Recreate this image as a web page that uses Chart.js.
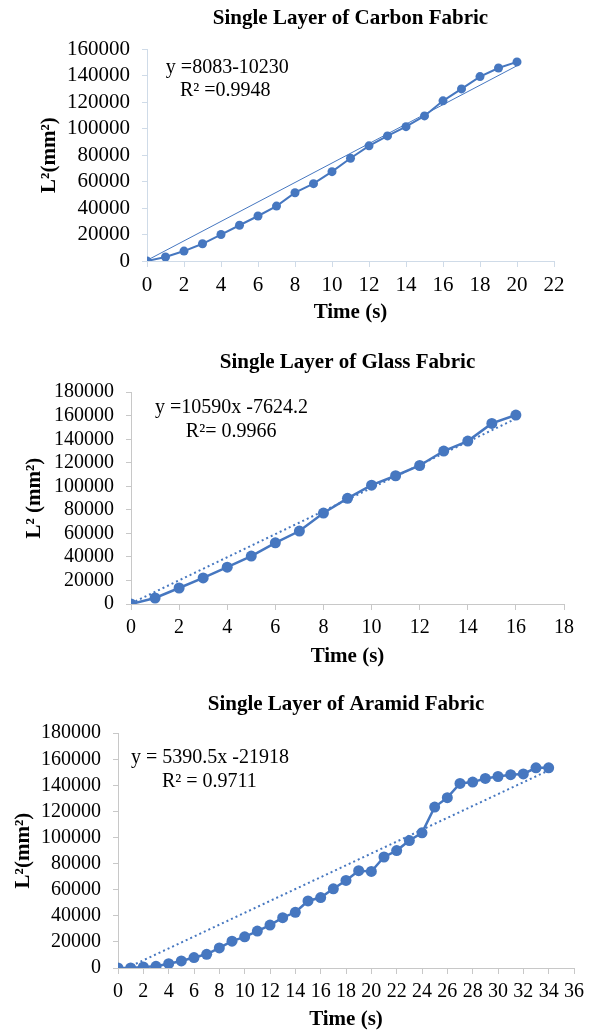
<!DOCTYPE html>
<html>
<head>
<meta charset="utf-8">
<script src="https://cdn.jsdelivr.net/npm/chart.js@4.4.1/dist/chart.umd.min.js"></script>
<style>
  body { margin: 0; background: #fff; }
  .box { position: absolute; left: 0; width: 592px; }
</style>
</head>
<body>
<div class="box" style="top:0;height:330px"><canvas id="carbon"></canvas></div>
<div class="box" style="top:330px;height:342px"><canvas id="glass"></canvas></div>
<div class="box" style="top:672px;height:360px"><canvas id="aramid"></canvas></div>
<script>
// carbon fabric
let carbonTime = [0, 1, 2, 3, 4, 5, 6, 7, 8, 9, 10, 11, 12, 13, 14, 15, 16, 17, 18, 19, 20];
let carbonL2 = [0, 3000, 7500, 13000, 20000, 27000, 34000, 41500, 51600, 58400, 67500,
  77600, 87000, 94500, 101500, 109600, 121000, 130000, 139300, 145800, 150400];
let carbonTrendX = [0, 20];
let carbonTrendY = [500, 147500];

// glass fabric
let glassTime = [0, 1, 2, 3, 4, 5, 6, 7, 8, 9, 10, 11, 12, 13, 14, 15, 16];
let glassL2 = [0, 5100, 13600, 22200, 31300, 40700, 52000, 62000, 77300, 89800, 101000,
  109000, 117700, 130000, 138500, 153500, 160600];
let glassTrendX = [0, 16];
let glassTrendY = [500, 157500];

// aramid fabric
let aramidTime = [0, 1, 2, 3, 4, 5, 6, 7, 8, 9, 10, 11, 12, 13, 14, 15, 16, 17, 18, 19, 20,
  21, 22, 23, 24, 25, 26, 27, 28, 29, 30, 31, 32, 33, 34];
let aramidL2 = [0, 0, 800, 1300, 3300, 5400, 8000, 10500, 15400, 20600, 23900, 28300, 32900,
  38600, 42700, 51400, 54000, 60700, 67100, 74600, 74000, 85100, 90000, 97700, 103600,
  123400, 130600, 141500, 142500, 145300, 146800, 148200, 148800, 153500, 153500];
let aramidTrendX = [0.7, 34];
let aramidTrendY = [0, 151500];

const serif = '"Liberation Serif", "Times New Roman", serif';
const blue = '#4677c0';

function pts(xs, ys) {
  return xs.map(function (x, i) { return { x: x, y: ys[i] }; });
}

// draws the trend equation text at data coordinates
const equationPlugin = {
  id: 'equation',
  afterDatasetsDraw: function (chart, args, opts) {
    const ctx = chart.ctx;
    ctx.save();
    ctx.font = '20px ' + serif;
    ctx.fillStyle = '#000';
    ctx.textAlign = 'left';
    ctx.textBaseline = 'middle';
    opts.lines.forEach(function (l) {
      ctx.fillText(l.text, chart.scales.x.getPixelForValue(l.x), chart.scales.y.getPixelForValue(l.y));
    });
    ctx.restore();
  }
};

function makeChart(id, cfg) {
  let options = {
    type: 'line',
    plugins: [equationPlugin],
    data: {
      datasets: [
        {
          data: pts(cfg.time, cfg.values),
          borderColor: blue,
          backgroundColor: blue,
          borderWidth: cfg.lineWidth,
          pointRadius: cfg.pointRadius,
          pointBorderWidth: 0,
          tension: 0,
        },
        {
          data: pts(cfg.trendX, cfg.trendY),
          borderColor: blue,
          borderWidth: cfg.trendWidth,
          borderDash: cfg.trendDash,
          pointRadius: 0,
          tension: 0,
        },
      ],
    },
    options: {
      animation: false,
      responsive: true,
      maintainAspectRatio: false,
      layout: { padding: { left: 0, right: cfg.padRight, top: 0, bottom: 0 } },
      plugins: {
        legend: { display: false },
        tooltip: { enabled: false },
        title: {
          display: true,
          fullSize: false,
          text: cfg.title,
          color: '#000',
          font: { family: serif, size: 21, weight: 'bold' },
          padding: { top: cfg.titleTop, bottom: cfg.titleBottom },
        },
        equation: { lines: cfg.equation },
      },
      scales: {
        x: {
          type: 'linear',
          min: 0,
          max: cfg.xMax,
          afterFit: function (s) { s.height = cfg.xHeight; },
          ticks: {
            stepSize: 2,
            autoSkip: false,
            maxRotation: 0,
            minRotation: 0,
            color: '#000',
            font: { family: serif, size: cfg.tickSize },
            padding: 6,
          },
          grid: { drawOnChartArea: false, color: cfg.axisColor, tickLength: 6 },
          border: { color: cfg.axisColor },
          title: {
            display: true,
            text: 'Time (s)',
            color: '#000',
            font: { family: serif, size: 21, weight: 'bold' },
            padding: { top: 0, bottom: cfg.xTitleBottom },
          },
        },
        y: {
          min: 0,
          max: cfg.yMax,
          afterFit: function (s) { s.width = cfg.yWidth; },
          ticks: {
            stepSize: 20000,
            autoSkip: false,
            color: '#000',
            font: { family: serif, size: cfg.tickSize },
            padding: 12,
            callback: function (v) { return String(v); },
          },
          grid: { drawOnChartArea: false, color: cfg.axisColor, tickLength: 5 },
          border: { color: cfg.axisColor },
          title: {
            display: true,
            text: cfg.yTitle,
            color: '#000',
            font: { family: serif, size: 21, weight: 'bold' },
            padding: { top: cfg.yTitleLeft, bottom: 0 },
          },
        },
      },
    },
  };
  return new Chart(document.getElementById(id), options);
}

makeChart('carbon', {
  title: 'Single Layer of Carbon Fabric',
  time: carbonTime, values: carbonL2, trendX: carbonTrendX, trendY: carbonTrendY,
  lineWidth: 2, pointRadius: 4.5, trendWidth: 1, trendDash: [], tickSize: 21,
  xMax: 22, yMax: 160000, padRight: 38, yWidth: 147, xHeight: 69, xTitleBottom: 5,
  titleTop: 6, titleBottom: 18, yTitleLeft: 37, yTitle: 'L²(mm²)', axisColor: '#cfdbe8',
  equation: [{ text: 'y =8083-10230', x: 1.02, y: 146300 }, { text: 'R² =0.9948', x: 1.78, y: 128900 }],
});

makeChart('glass', {
  title: 'Single Layer of Glass Fabric',
  time: glassTime, values: glassL2, trendX: glassTrendX, trendY: glassTrendY,
  lineWidth: 2.5, pointRadius: 5.5, trendWidth: 2, trendDash: [2, 3], tickSize: 20,
  xMax: 18, yMax: 180000, padRight: 28, yWidth: 131, xHeight: 68, xTitleBottom: 3,
  titleTop: 20, titleBottom: 17, yTitleLeft: 22, yTitle: 'L² (mm²)', axisColor: '#c8c8c8',
  equation: [{ text: 'y =10590x -7624.2', x: 1.0, y: 167200 }, { text: 'R²= 0.9966', x: 2.28, y: 146800 }],
});

makeChart('aramid', {
  title: 'Single Layer of Aramid Fabric',
  time: aramidTime, values: aramidL2, trendX: aramidTrendX, trendY: aramidTrendY,
  lineWidth: 2.5, pointRadius: 5.5, trendWidth: 2, trendDash: [2, 3], tickSize: 20,
  xMax: 36, yMax: 180000, padRight: 18, yWidth: 118, xHeight: 64, xTitleBottom: 0,
  titleTop: 20, titleBottom: 16, yTitleLeft: 11, yTitle: 'L²(mm²)', axisColor: '#c8c8c8',
  equation: [{ text: 'y = 5390.5x -21918', x: 1.03, y: 161500 }, { text: 'R² = 0.9711', x: 3.47, y: 143100 }],
});
</script>
</body>
</html>
